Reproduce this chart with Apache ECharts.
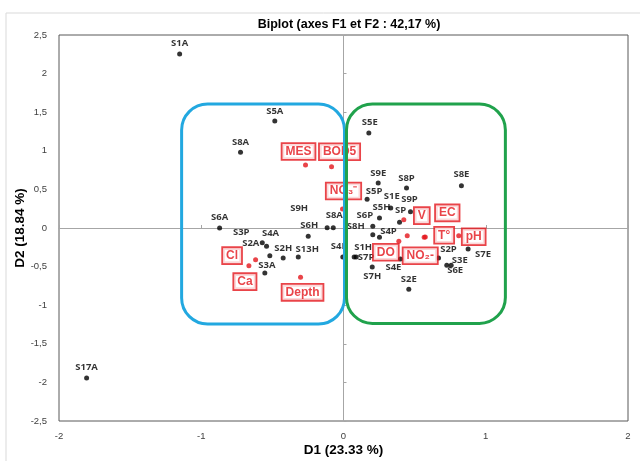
<!DOCTYPE html>
<html>
<head>
<meta charset="utf-8">
<script src="https://cdn.jsdelivr.net/npm/echarts@6/dist/echarts.min.js"></script>
<style>html,body{margin:0;padding:0;background:#fff;}#c{width:640px;height:461px;}</style>
</head>
<body>
<div id="c"></div>
<script>
// ---- Data ----
const sampleNames = ['S1A','S5A','S8A','S6A','S17A','S5E','S9E','S8P','S8E','S5P',
  'S1E','S5H','S9P','SP','S6P','S8H','S4P','S6H','S9H','S8A',
  'S4H','S1H','S7P','S7H','S4E','S2P','S3E','S6E','S7E','S2E',
  'S3P','S4A','S2A','S2H','S13H','S3A'];
const sampleX = [-1.152,-0.483,-0.724,-0.871,-1.806,0.178,0.244,0.443,0.829,0.166,
  0.332,0.253,0.471,0.394,0.206,0.206,0.253,-0.248,-0.115,-0.072,
  -0.005,0.075,0.089,0.202,0.400,0.668,0.726,0.757,0.876,0.459,
  -0.571,-0.541,-0.518,-0.424,-0.318,-0.553];
const sampleY = [2.254,1.386,0.980,0.000,-1.943,1.230,0.583,0.518,0.548,0.372,
  0.259,0.130,0.211,0.074,0.022,-0.087,-0.120,-0.108,0.004,0.004,
  -0.375,-0.376,-0.376,-0.505,-0.400,-0.389,-0.483,-0.483,-0.272,-0.794,
  -0.190,-0.237,-0.358,-0.389,-0.376,-0.583];
// label placement relative to each point (px)
const sampleLabelOffset = [[0,-11],[0,-10],[0,-10],[0,-11],[0,-11],[1,-11],[0,-10],[0,-10],[0,-11],[7,-8],
  [1,-11.5],[2,-11],[-1,-12],[1,-11.5],[-8,-11],[-17,-8],[9,-6],[1,-11],[-28,-19],[1,-12.5],
  [-3,-11],[9,-10],[10,0],[0,9],[-7,8],[10,-9],[13,-5],[4,5],[15,5],[0,-10],
  [-21,-10],[4,-13],[-19,-12],[0,-10],[9,-8],[2,-8]];

const varNames = ['MES','BOD5','NO\u2083\u207B','V','EC','T\u00B0','pH','DO','NO\u2082-','Cl','Ca','Depth'];
const varX = [-0.267,-0.084,-0.007,0.424,0.575,0.567,0.810,0.389,0.448,-0.618,-0.665,-0.302];
const varY = [0.816,0.794,0.246,0.108,-0.115,-0.120,-0.100,-0.172,-0.100,-0.410,-0.488,-0.639];
const varLabelOffset = [[-7,-13.5],[8,-15],[1,-18],[18,-4],[22,-24],[20,-2],[15,1],[-13,11],[13,20],[-23.5,-4],[-4,16],[2,15]];

const xTicks = {min:-2, max:2, interval:1};
const yTicks = {min:-2.5, max:2.5, interval:0.5};
// highlighted groups (data-space extents)
const groupBoxes = [
  {x0:-1.138, x1:0.007, y0:1.606, y1:-1.243, color:'#22a8e0'},
  {x0:0.021, x1:1.138, y0:1.606, y1:-1.236, color:'#20a24c'}
];

const RED = '#e3151c';
const fontFam = '"Liberation Sans", Arial, sans-serif';

const chart = echarts.init(document.getElementById('c'), null, {renderer:'canvas'});
const fmt = v => String(v).replace('.', ',');

chart.setOption({
  animation:false,
  backgroundColor:'#fff',
  title:{text:'Biplot (axes F1 et F2 : 42,17 %)', left:344, textAlign:'center', top:13,
    textStyle:{fontFamily:fontFam, fontSize:12.5, fontWeight:'bold', color:'#000'}},
  grid:{left:59, right:12, top:35, bottom:40, show:true, borderColor:'#595959', borderWidth:1,
    outerBoundsMode:'none', containLabel:false},
  xAxis:[
    {type:'value', min:xTicks.min, max:xTicks.max, interval:xTicks.interval,
     axisLine:{show:false}, axisTick:{show:false}, splitLine:{show:false},
     axisLabel:{color:'#404040', fontSize:9.5, fontFamily:fontFam, margin:10},
     name:'D1 (23.33 %)', nameLocation:'middle', nameGap:22, nameMoveOverlap:false,
     nameTextStyle:{fontFamily:fontFam, fontSize:13.5, fontWeight:'bold', color:'#000'}},
    {type:'value', min:xTicks.min, max:xTicks.max, interval:xTicks.interval, position:'top',
     axisLine:{show:true, onZero:true, onZeroAxisIndex:0, lineStyle:{color:'#a6a6a6', width:1}},
     axisTick:{show:true, length:3, inside:false, lineStyle:{color:'#a6a6a6'}},
     axisLabel:{show:false}, splitLine:{show:false}}
  ],
  yAxis:[
    {type:'value', min:yTicks.min, max:yTicks.max, interval:yTicks.interval,
     axisLine:{show:false}, axisTick:{show:false}, splitLine:{show:false},
     axisLabel:{color:'#404040', fontSize:9.5, fontFamily:fontFam, margin:12, formatter:fmt},
     name:'D2 (18.84 %)', nameLocation:'middle', nameGap:32, nameRotate:90, nameMoveOverlap:false,
     nameTextStyle:{fontFamily:fontFam, fontSize:13.5, fontWeight:'bold', color:'#000'}},
    {type:'value', min:yTicks.min, max:yTicks.max, interval:yTicks.interval, position:'right',
     axisLine:{show:true, onZero:true, onZeroAxisIndex:0, lineStyle:{color:'#a6a6a6', width:1}},
     axisTick:{show:true, length:3, lineStyle:{color:'#a6a6a6'}},
     axisLabel:{show:false}, splitLine:{show:false}}
  ],
  series:[
    {type:'scatter', xAxisIndex:0, yAxisIndex:0, symbolSize:5, z:3,
     itemStyle:{color:'#000'},
     label:{show:true, position:'inside', formatter:'{b}', color:'#000', fontSize:9.5,
       fontWeight:'bold', fontFamily:'"Open Sans", "Liberation Sans", sans-serif'},
     data: sampleNames.map((n,i)=>({name:n, value:[sampleX[i], sampleY[i]],
       label:{offset: sampleLabelOffset[i]}}))},
    {type:'scatter', xAxisIndex:0, yAxisIndex:0, symbolSize:5, z:4,
     itemStyle:{color:RED},
     label:{show:true, position:'inside', formatter:'{b}', color:RED, fontSize:12,
       fontWeight:'bold', fontFamily:fontFam, backgroundColor:'#fff',
       borderColor:RED, borderWidth:1.8, padding:[2,3,1,3]},
     data: varNames.map((n,i)=>({name:n, value:[varX[i], varY[i]],
       label:{offset: varLabelOffset[i]}}))}
  ]
});

const gfx = [
  {type:'rect', shape:{x:6, y:13, width:700, height:500}, style:{fill:'none', stroke:'#d9d9d9', lineWidth:1}, z:-1, silent:true}
];
groupBoxes.forEach(b=>{
  const p0 = chart.convertToPixel({gridIndex:0}, [b.x0, b.y0]);
  const p1 = chart.convertToPixel({gridIndex:0}, [b.x1, b.y1]);
  gfx.push({type:'rect', z:50, silent:true,
    shape:{x:p0[0], y:p0[1], width:p1[0]-p0[0], height:p1[1]-p0[1], r:26},
    style:{fill:'none', stroke:b.color, lineWidth:3}});
});
chart.setOption({graphic:gfx});
</script>
</body>
</html>
